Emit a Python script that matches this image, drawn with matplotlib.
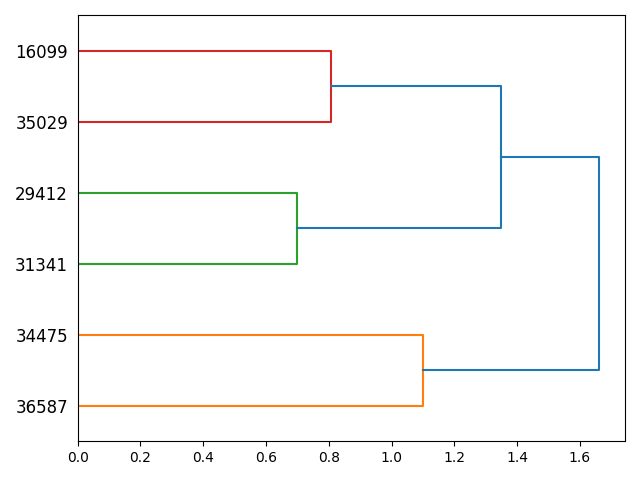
import matplotlib
matplotlib.use("Agg")
import matplotlib.pyplot as plt

# leaves from bottom to top
leaf_labels = ["36587", "34475", "31341", "29412", "35029", "16099"]

# merges: (child_a, child_b, height, colour); nodes 0..5 are leaves, 6+ clusters
merge_a = [4, 2, 0, 7, 8]
merge_b = [5, 3, 1, 6, 9]
merge_height = [0.806, 0.698, 1.10, 1.348, 1.661]
merge_color = ["C3", "C2", "C1", "C0", "C0"]

fig, ax = plt.subplots(figsize=(6.4, 4.8), dpi=100)

pos = [5 + 10 * i for i in range(len(leaf_labels))]
hgt = [0.0] * len(leaf_labels)
for a, b, h, c in zip(merge_a, merge_b, merge_height, merge_color):
    ax.plot([hgt[a], h, h, hgt[b]], [pos[a], pos[a], pos[b], pos[b]], color=c, lw=1.5)
    pos.append((pos[a] + pos[b]) / 2)
    hgt.append(h)

ax.set_ylim(0, 10 * len(leaf_labels))
ax.set_xlim(0, max(merge_height) * 1.05)
ax.set_yticks([5 + 10 * i for i in range(len(leaf_labels))])
ax.set_yticklabels(leaf_labels, fontsize=12)
for line in ax.get_yticklines():
    line.set_visible(False)

plt.tight_layout()
plt.savefig("out.png")
